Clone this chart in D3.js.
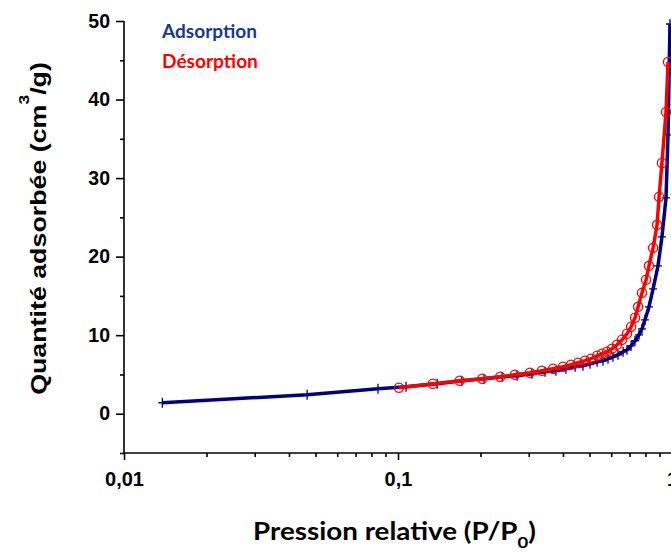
<!DOCTYPE html>
<html>
<head>
<meta charset="utf-8">
<script src="https://cdn.jsdelivr.net/npm/d3@7/dist/d3.min.js"></script>
<style>
html,body{margin:0;padding:0;background:#fff;overflow:hidden;}
svg{display:block;overflow:visible;}
</style>
</head>
<body>
<svg id="chart" width="671" height="552"></svg>
<script>
// ---- data ----
const adsP = [0.0138,0.0466,0.0845,0.107,0.139,0.171,0.206,0.240,0.272,0.308,0.344,0.377,0.410,0.443,0.473,0.502,0.533,0.560,0.584,0.609,0.635,0.663,0.685,0.709,0.733,0.758,0.777,0.797,0.824,0.853,0.889,0.919,0.951,0.967,0.983];
const adsV = [1.40,2.42,3.18,3.44,3.82,4.20,4.45,4.71,4.83,5.09,5.34,5.47,5.73,5.98,6.11,6.36,6.62,6.74,7.00,7.25,7.51,7.89,8.14,8.65,9.29,10.05,10.81,11.96,13.61,15.90,18.83,22.52,27.48,35.50,49.62];
const desP = [0.1008,0.134,0.168,0.203,0.236,0.267,0.303,0.335,0.368,0.400,0.428,0.454,0.481,0.506,0.533,0.555,0.579,0.604,0.630,0.657,0.685,0.709,0.733,0.752,0.777,0.804,0.824,0.853,0.882,0.897,0.919,0.951,0.967];
const desV = [3.31,3.82,4.20,4.45,4.71,4.96,5.22,5.47,5.73,5.98,6.23,6.49,6.74,7.00,7.38,7.63,7.89,8.27,8.78,9.41,10.18,11.07,12.21,13.61,15.39,17.05,18.83,21.12,24.05,27.61,31.93,38.42,44.78];
const xMajor = [0.01,0.1,1];
const xMajorLabels = ["0,01","0,1","1"];
const xMinor = [0.02,0.03,0.04,0.05,0.06,0.07,0.08,0.09,0.2,0.3,0.4,0.5,0.6,0.7,0.8,0.9];
const yMajor = [0,10,20,30,40,50];
const yMinor = [-5,5,15,25,35,45];
const seriesNames = ["Adsorption","Désorption"];
const seriesColors = ["#000080","#ff0000"];

// ---- scales ----
const svg = d3.select("#chart");
const x = d3.scaleLog().domain([0.01,1]).range([124,672]);
const y = d3.scaleLinear().domain([-5,50]).range([453,21]);

const ads = adsP.map((p,i)=>({p, v:adsV[i]}));
const des = desP.map((p,i)=>({p, v:desV[i]}));
const line = d3.line().x(d=>x(d.p)).y(d=>y(d.v));

// helper: stretch a text group horizontally to a target width
function fitWidth(g, target, base){
  const w = g.node().getBBox().width;
  g.attr("transform", base + ` scale(${target/w},1)`);
}

// ---- axes ----
const axisFont = "'Liberation Sans', Arial, sans-serif";
const gx = svg.append("g").attr("transform","translate(0,453)");
gx.call(d3.axisBottom(x).tickValues(xMajor).tickFormat((d,i)=>xMajorLabels[i]).tickSize(7).tickPadding(6));
const gxm = svg.append("g").attr("transform","translate(0,453)");
gxm.call(d3.axisBottom(x).tickValues(xMinor).tickFormat("").tickSize(4));
gxm.select(".domain").remove();

const gy = svg.append("g").attr("transform","translate(124,0)");
gy.call(d3.axisLeft(y).tickValues(yMajor).tickSize(8).tickPadding(6));
const gym = svg.append("g").attr("transform","translate(124,0)");
gym.call(d3.axisLeft(y).tickValues(yMinor).tickFormat("").tickSize(4));
gym.select(".domain").remove();

svg.selectAll(".domain").attr("stroke","#000").attr("stroke-width",1.6);
svg.selectAll(".tick line").attr("stroke","#000").attr("stroke-width",1.6);
svg.selectAll(".tick text").attr("fill","#000")
  .style("font-family",axisFont).style("font-weight","bold").style("font-size","19.5px");
gx.selectAll(".tick text").attr("dy","1.0em").style("font-size","20px");
gx.select(".domain").attr("d","M124,0H672");
gy.select(".domain").attr("d","M0,453V21");

// ---- series ----
svg.append("path").datum(ads).attr("d",line)
  .attr("fill","none").attr("stroke",seriesColors[0]).attr("stroke-width",3.5).attr("stroke-linejoin","round");
svg.append("g").selectAll("path").data(ads).join("path")
  .attr("d",d=>`M${x(d.p)-4},${y(d.v)}H${x(d.p)+4}M${x(d.p)},${y(d.v)-5}V${y(d.v)+5}`)
  .attr("stroke",seriesColors[0]).attr("stroke-width",1.3).attr("fill","none");

svg.append("path").datum(des).attr("d",line)
  .attr("fill","none").attr("stroke",seriesColors[1]).attr("stroke-width",3.5).attr("stroke-linejoin","round");
svg.append("g").selectAll("circle").data(des).join("circle")
  .attr("cx",d=>x(d.p)).attr("cy",d=>y(d.v)).attr("r",4.6)
  .attr("fill","none").attr("stroke",seriesColors[1]).attr("stroke-width",1.3);

// ---- legend ----
const legFont = "Lato, 'Open Sans', sans-serif";
const l1 = svg.append("g");
l1.append("text").attr("x",0).attr("y",0).text(seriesNames[0])
  .attr("fill","#163a8f").style("font-family",legFont).style("font-weight","bold").style("font-size","18.5px");
fitWidth(l1, 96, "translate(162,38)");
const l2 = svg.append("g");
l2.append("text").attr("x",0).attr("y",0).text(seriesNames[1])
  .attr("fill","#ff0000").style("font-family",legFont).style("font-weight","bold").style("font-size","18.5px");
fitWidth(l2, 96, "translate(162,68)");

// ---- axis titles ----
const gxt = svg.append("g");
const xt = gxt.append("text").attr("x",0).attr("y",0).attr("text-anchor","middle")
  .style("font-family",legFont).style("font-weight","bold").style("font-size","24px").attr("fill","#000");
xt.append("tspan").text("Pression relative (P/P");
xt.append("tspan").text("0").attr("dy","8").style("font-size","16px");
xt.append("tspan").text(")").attr("dy","-8");
fitWidth(gxt, 283, "translate(394.5,540)");

const gyt = svg.append("g");
const yt = gyt.append("text").attr("x",0).attr("y",0).attr("text-anchor","middle")
  .style("font-family",axisFont).style("font-weight","bold").style("font-size","21.5px").attr("fill","#000");
yt.append("tspan").text("Quantité adsorbée (cm");
yt.append("tspan").text("3").attr("dy","-17").style("font-size","14px");
yt.append("tspan").text("/g)").attr("dy","17");
fitWidth(gyt, 333, "translate(46,228.5) rotate(-90)");
</script>
</body>
</html>
